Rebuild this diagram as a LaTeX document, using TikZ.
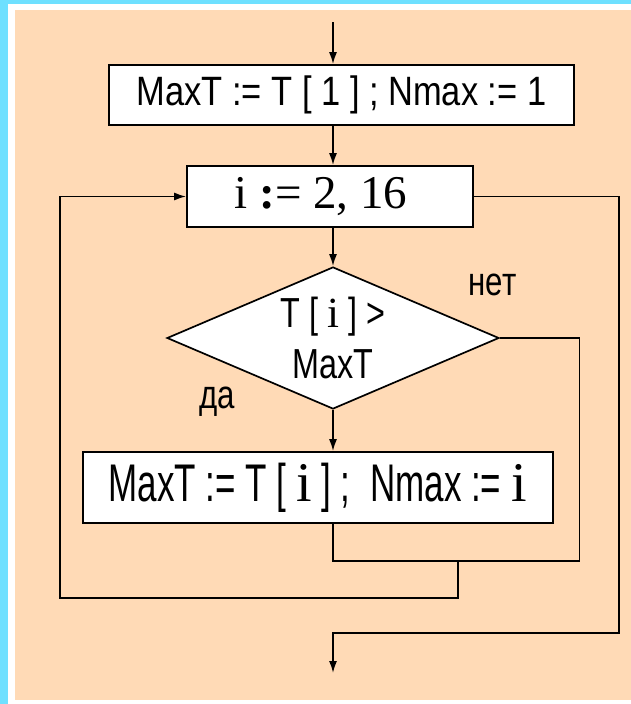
\documentclass[tikz,border=0pt]{standalone}
\usepackage{fontspec}
\setmainfont{Liberation Serif}
\newfontfamily\sansA[FakeStretch=0.84]{Liberation Sans}
\newfontfamily\sansB[FakeStretch=0.77]{Liberation Sans}
\newfontfamily\sansC[FakeStretch=0.66]{Liberation Sans}
\newfontfamily\sansD[FakeStretch=0.78]{Liberation Sans}
\usetikzlibrary{shapes.geometric,arrows.meta}
\definecolor{peach}{RGB}{255,218,182}
\definecolor{framecyan}{RGB}{110,224,255}
\newcommand{\seri}[1]{{\rmfamily\fontsize{#1}{#1}\selectfont i}}
\tikzset{
  block/.style={draw,fill=white,line width=1.7pt,inner sep=0pt},
  flow/.style={line width=1.7pt},
  >={Latex[length=12pt,width=8pt]}
}
\begin{document}
\begin{tikzpicture}[x=1pt,y=-1pt]
\useasboundingbox (0,0) rectangle (631,704);
% background
\fill[white] (0,0) rectangle (631,704);
\fill[framecyan] (0,0) rectangle (631,3.5);
\fill[framecyan] (0,0) rectangle (8,704);
\fill[peach] (14.5,9.5) rectangle (631,700);

\coordinate (top) at (333,22);
\node[block,minimum width=465pt,minimum height=60pt,font=\sansA\fontsize{41}{46}\selectfont] (init) at (341.5,95) {MaxT := T [ 1 ] ; Nmax := 1};
\node[block,minimum width=286pt,minimum height=61pt,font=\fontsize{47}{50}\selectfont] (loop) at (330,196.5) {i {\bfseries:}= 2, 16\hspace*{18pt}};
\node[block,diamond,aspect=2.34,minimum width=332pt,minimum height=142pt,align=center,font=\sansB\fontsize{42}{51.5}\selectfont] (cond) at (333,338) {T [ \seri{43} ] >\\MaxT};
\node[block,minimum width=470pt,minimum height=71pt,font=\sansC\fontsize{53}{58}\selectfont] (body) at (317.7,487.5) {MaxT := T [ \seri{56} ] ;\ \ Nmax := \seri{56}};

\node[anchor=base,font=\sansD\fontsize{40}{44}\selectfont] (no) at (492.5,295) {нет};
\node[anchor=base,font=\sansD\fontsize{40}{44}\selectfont] (yes) at (217,408) {да};

\draw[flow,->] (top) -- (top |- init.north);
\draw[flow,->] (init.south -| top) -- (loop.north -| top);
\draw[flow,->] (loop.south -| top) -- (cond.north);
\draw[flow,->] (cond.south) -- (body.north -| top);

% branch "no" joins after the body
\coordinate (join) at (579.5,561);
\draw[flow] (cond.east) -| (join) -- (join -| top) -- (body.south -| top);

% back to the loop header
\coordinate (back) at (458,561);
\coordinate (backcorner) at (60,598);
\draw[flow,->] (back) |- (backcorner) |- (loop.west);

% loop exit
\coordinate (exitcorner) at (619,633);
\coordinate (end) at (333,673);
\draw[flow,->] (loop.east) -| (exitcorner) -| (end);
\end{tikzpicture}
\end{document}
